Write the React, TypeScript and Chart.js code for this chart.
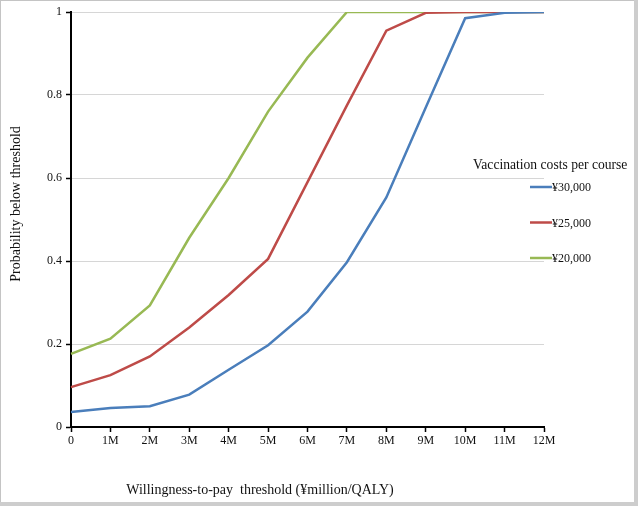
import React, { useEffect, useRef } from "react";
import { Chart, registerables } from "chart.js";

Chart.register(...registerables);

const xLabels = ["0", "1M", "2M", "3M", "4M", "5M", "6M", "7M", "8M", "9M", "10M", "11M", "12M"];
const seriesNames = ["¥30,000", "¥25,000", "¥20,000"];
const cost30000 = [0.036, 0.046, 0.05, 0.078, 0.138, 0.197, 0.278, 0.397, 0.553, 0.77, 0.985, 0.998, 1];
const cost25000 = [0.096, 0.125, 0.17, 0.24, 0.318, 0.405, 0.59, 0.775, 0.955, 0.998, 1, 1, 1];
const cost20000 = [0.176, 0.213, 0.293, 0.456, 0.6, 0.76, 0.89, 1, 1, 1, 1, 1, 1];
const yTicks = [0, 0.2, 0.4, 0.6, 0.8, 1];
const legendTitle = "Vaccination costs per course";
const xTitle = "Willingness-to-pay  threshold (¥million/QALY)";
const yTitle = "Probability below threshold";

const colors = ["#4a7ebb", "#be4b48", "#98b954"];
const FONT = "'Liberation Serif', 'Times New Roman', serif";

export default function App() {
  const ref = useRef<HTMLCanvasElement>(null);
  useEffect(() => {
    document.body.style.margin = "0";
    const decor = {
      id: "decor",
      beforeDraw(chart: any) {
        const ctx = chart.ctx;
        ctx.save();
        ctx.fillStyle = "#fff";
        ctx.fillRect(0, 0, chart.width, chart.height);
        ctx.restore();
      },
      afterDraw(chart: any) {
        const ctx = chart.ctx;
        ctx.save();
        // frame
        ctx.fillStyle = "#c4c4c4";
        ctx.fillRect(0, 0, chart.width, 1);
        ctx.fillRect(0, 0, 1, chart.height);
        ctx.fillStyle = "#cdcdcd";
        ctx.fillRect(chart.width - 4, 0, 4, chart.height);
        ctx.fillRect(0, chart.height - 4, chart.width, 4);
        // axis titles
        ctx.fillStyle = "#111";
        ctx.font = `14px ${FONT}`;
        ctx.textAlign = "center";
        ctx.textBaseline = "middle";
        ctx.fillText(xTitle, 260, 490);
        ctx.save();
        ctx.translate(16, 204);
        ctx.rotate(-Math.PI / 2);
        ctx.font = `14px ${FONT}`;
        ctx.fillText(yTitle, 0, 0);
        ctx.restore();
        // legend
        ctx.textAlign = "left";
        ctx.font = `13.6px ${FONT}`;
        ctx.fillText(legendTitle, 473, 165);
        ctx.font = `12px ${FONT}`;
        chart.data.datasets.forEach((ds: any, i: number) => {
          const y = 187 + i * 35.5;
          ctx.strokeStyle = ds.borderColor;
          ctx.lineWidth = 2.5;
          ctx.beginPath();
          ctx.moveTo(530, y);
          ctx.lineTo(552, y);
          ctx.stroke();
          ctx.fillStyle = "#111";
          ctx.fillText(ds.label, 552, y + 1);
        });
        ctx.restore();
      },
    };
    const chart = new Chart(ref.current!, {
      type: "line",
      data: {
        labels: xLabels,
        datasets: [cost30000, cost25000, cost20000].map((d, i) => ({
          label: seriesNames[i],
          data: d,
          borderColor: colors[i],
          backgroundColor: colors[i],
          borderWidth: 2.5,
          pointRadius: 0,
          tension: 0,
        })),
      },
      options: {
        animation: false,
        responsive: false,
        layout: { padding: { left: 0, right: 94, top: 12, bottom: 0 } },
        plugins: { legend: { display: false }, tooltip: { enabled: false } },
        scales: {
          x: {
            offset: false,
            grid: {
              drawOnChartArea: false,
              drawTicks: true,
              tickLength: 5,
              tickColor: "#000",
              tickWidth: 1.5,
            },
            border: { display: true, color: "#000", width: 2 },
            ticks: { color: "#111", font: { family: FONT, size: 12 }, padding: 2, maxRotation: 0, autoSkip: false },
            afterFit(s: any) {
              s.height = 79;
            },
          },
          y: {
            min: 0,
            max: 1,
            afterBuildTicks(s: any) {
              s.ticks = yTicks.map((v) => ({ value: v }));
            },
            grid: {
              color: "#d6d6d6",
              lineWidth: 1,
              borderDash: [2, 2],
              drawTicks: true,
              tickLength: 5,
              tickColor: "#000",
              tickWidth: 1.5,
              tickBorderDash: [],
            } as any,
            border: { display: true, color: "#000", width: 2 },
            ticks: {
              color: "#111",
              font: { family: FONT, size: 12 },
              padding: 4,
              callback: (v: any) => String(v),
            },
            afterFit(s: any) {
              s.width = 71;
            },
          },
        },
      },
      plugins: [decor],
    });
    return () => chart.destroy();
  }, []);
  return (
    <div style={{ width: 638, height: 506 }}>
      <canvas ref={ref} width={638} height={506} style={{ display: "block" }} />
    </div>
  );
}
